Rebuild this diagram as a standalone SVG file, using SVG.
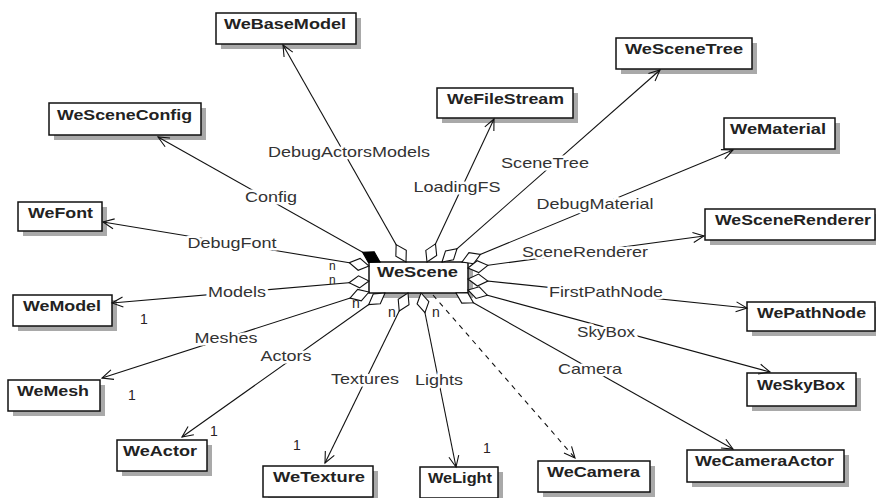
<svg xmlns="http://www.w3.org/2000/svg" width="876" height="498" viewBox="0 0 876 498">
<defs>
<style>
.box{fill:#fff;stroke:#111;stroke-width:1.5}
.sh{fill:#a9a9a9}
.nt{font-family:"Liberation Sans",Arial,sans-serif;font-weight:bold;font-size:15px;fill:#222}
.ln{fill:none;stroke:#111;stroke-width:1.1}
.ag{marker-start:url(#dia);marker-end:url(#arr)}
.lb{font-family:"Liberation Sans",Arial,sans-serif;font-size:15px;fill:#333;text-anchor:middle;stroke:#fff;stroke-width:5;paint-order:stroke;stroke-linejoin:round}
.m{font-family:"Liberation Sans",Arial,sans-serif;font-size:14px;fill:#2a2222}
.mn{font-family:"Liberation Sans",Arial,sans-serif;font-size:12px;fill:#2a2222}
</style>
<marker id="dia" markerUnits="userSpaceOnUse" markerWidth="1" markerHeight="1" refX="0" refY="0" orient="auto" overflow="visible">
<path d="M0,0 L10,-6 L20,0 L10,6 Z" fill="#fff" stroke="#111" stroke-width="1.1"/>
</marker>
<marker id="diab" markerUnits="userSpaceOnUse" markerWidth="1" markerHeight="1" refX="0" refY="0" orient="auto" overflow="visible">
<path d="M0,0 L10,-6 L20,0 L10,6 Z" fill="#000" stroke="#000" stroke-width="1.1"/>
</marker>
<marker id="arr" markerUnits="userSpaceOnUse" markerWidth="1" markerHeight="1" refX="0" refY="0" orient="auto" overflow="visible">
<path d="M-11,-5 L0,0 L-11,5" fill="none" stroke="#111" stroke-width="1.1"/>
</marker>
</defs>
<rect width="876" height="498" fill="#fff"/>

<g id="WeBaseModel"><rect class="sh" x="221" y="18" width="140" height="31"/><rect class="box" x="216" y="13" width="140" height="31"/><text class="nt" x="224" y="29" textLength="122" lengthAdjust="spacingAndGlyphs">WeBaseModel</text></g>
<g id="WeSceneConfig"><rect class="sh" x="54" y="108" width="152" height="32"/><rect class="box" x="49" y="103" width="152" height="32"/><text class="nt" x="57" y="120" textLength="135" lengthAdjust="spacingAndGlyphs">WeSceneConfig</text></g>
<g id="WeFont"><rect class="sh" x="23" y="207" width="84" height="29"/><rect class="box" x="18" y="202" width="84" height="29"/><text class="nt" x="28" y="218" textLength="65" lengthAdjust="spacingAndGlyphs">WeFont</text></g>
<g id="WeModel"><rect class="sh" x="18" y="300" width="99" height="31"/><rect class="box" x="13" y="295" width="99" height="31"/><text class="nt" x="23" y="311" textLength="78" lengthAdjust="spacingAndGlyphs">WeModel</text></g>
<g id="WeMesh"><rect class="sh" x="13" y="385" width="92" height="31"/><rect class="box" x="8" y="380" width="92" height="31"/><text class="nt" x="17" y="396" textLength="72" lengthAdjust="spacingAndGlyphs">WeMesh</text></g>
<g id="WeActor"><rect class="sh" x="122" y="445" width="90" height="31"/><rect class="box" x="117" y="440" width="90" height="31"/><text class="nt" x="123" y="456" textLength="74" lengthAdjust="spacingAndGlyphs">WeActor</text></g>
<g id="WeTexture"><rect class="sh" x="268" y="471" width="110" height="31"/><rect class="box" x="263" y="466" width="110" height="31"/><text class="nt" x="273" y="482" textLength="92" lengthAdjust="spacingAndGlyphs">WeTexture</text></g>
<g id="WeLight"><rect class="sh" x="425" y="472" width="78" height="31"/><rect class="box" x="420" y="467" width="78" height="31"/><text class="nt" x="428" y="483" textLength="64" lengthAdjust="spacingAndGlyphs">WeLight</text></g>
<g id="WeCamera"><rect class="sh" x="543" y="466" width="112" height="31"/><rect class="box" x="538" y="461" width="112" height="31"/><text class="nt" x="547" y="477" textLength="93" lengthAdjust="spacingAndGlyphs">WeCamera</text></g>
<g id="WeCameraActor"><rect class="sh" x="692" y="455" width="157" height="32"/><rect class="box" x="687" y="450" width="157" height="32"/><text class="nt" x="695" y="466" textLength="139" lengthAdjust="spacingAndGlyphs">WeCameraActor</text></g>
<g id="WeSkyBox"><rect class="sh" x="752" y="378" width="109" height="33"/><rect class="box" x="747" y="373" width="109" height="33"/><text class="nt" x="757" y="390" textLength="88" lengthAdjust="spacingAndGlyphs">WeSkyBox</text></g>
<g id="WePathNode"><rect class="sh" x="752" y="307" width="124" height="29"/><rect class="box" x="747" y="302" width="128" height="29"/><text class="nt" x="757" y="318" textLength="109" lengthAdjust="spacingAndGlyphs">WePathNode</text></g>
<g id="WeSceneRenderer"><rect class="sh" x="710" y="214" width="166" height="31"/><rect class="box" x="705" y="209" width="170" height="31"/><text class="nt" x="715" y="225" textLength="156" lengthAdjust="spacingAndGlyphs">WeSceneRenderer</text></g>
<g id="WeSceneTree"><rect class="sh" x="621" y="43" width="136" height="31"/><rect class="box" x="616" y="38" width="136" height="31"/><text class="nt" x="625" y="54" textLength="118" lengthAdjust="spacingAndGlyphs">WeSceneTree</text></g>
<g id="WeMaterial"><rect class="sh" x="729" y="123" width="111" height="31"/><rect class="box" x="724" y="118" width="111" height="31"/><text class="nt" x="730" y="134" textLength="96" lengthAdjust="spacingAndGlyphs">WeMaterial</text></g>
<g id="WeFileStream"><rect class="sh" x="442" y="93" width="136" height="30"/><rect class="box" x="437" y="88" width="136" height="30"/><text class="nt" x="447" y="104" textLength="117" lengthAdjust="spacingAndGlyphs">WeFileStream</text></g>
<g id="WeScene"><rect class="sh" x="374" y="267" width="99" height="31"/><rect class="box" x="369" y="262" width="99" height="31"/><text class="nt" x="377" y="277" textLength="81" lengthAdjust="spacingAndGlyphs">WeScene</text></g>

<g id="connectors">
<path class="ln" d="M380,262 L158,137" marker-start="url(#diab)" marker-end="url(#arr)"/>
<path class="ln ag" d="M406,262 L283,45"/>
<path class="ln ag" d="M427,262 L494,119"/>
<path class="ln ag" d="M442,262 L660,70"/>
<path class="ln ag" d="M462,262 L733,150"/>
<path class="ln ag" d="M468,268 L704,236"/>
<path class="ln ag" d="M468,279 L747,308"/>
<path class="ln ag" d="M468,290 L770,372"/>
<path class="ln ag" d="M456,293 L733,449"/>
<path class="ln" d="M433,295 L575,458" stroke-dasharray="5,5" marker-end="url(#arr)"/>
<path class="ln ag" d="M421,293 L456,467"/>
<path class="ln ag" d="M408,293 L325,463"/>
<path class="ln ag" d="M385,293 L182,437"/>
<path class="ln ag" d="M369,292 L102,378"/>
<path class="ln ag" d="M369,281 L112,303"/>
<path class="ln ag" d="M369,266 L103,222"/>

<text class="lb" x="349" y="157" textLength="162" lengthAdjust="spacingAndGlyphs">DebugActorsModels</text>
<text class="lb" x="271" y="202" textLength="52" lengthAdjust="spacingAndGlyphs">Config</text>
<text class="lb" x="232" y="248" textLength="89" lengthAdjust="spacingAndGlyphs">DebugFont</text>
<text class="lb" x="237" y="297" textLength="58" lengthAdjust="spacingAndGlyphs">Models</text>
<text class="lb" x="226" y="343" textLength="63" lengthAdjust="spacingAndGlyphs">Meshes</text>
<text class="lb" x="286" y="361" textLength="51" lengthAdjust="spacingAndGlyphs">Actors</text>
<text class="lb" x="365" y="384" textLength="68" lengthAdjust="spacingAndGlyphs">Textures</text>
<text class="lb" x="439" y="385" textLength="48" lengthAdjust="spacingAndGlyphs">Lights</text>
<text class="lb" x="590" y="374" textLength="64" lengthAdjust="spacingAndGlyphs">Camera</text>
<text class="lb" x="606" y="337" textLength="58" lengthAdjust="spacingAndGlyphs">SkyBox</text>
<text class="lb" x="606" y="297" textLength="114" lengthAdjust="spacingAndGlyphs">FirstPathNode</text>
<text class="lb" x="585" y="257" textLength="126" lengthAdjust="spacingAndGlyphs">SceneRenderer</text>
<text class="lb" x="595" y="209" textLength="117" lengthAdjust="spacingAndGlyphs">DebugMaterial</text>
<text class="lb" x="545" y="168" textLength="88" lengthAdjust="spacingAndGlyphs">SceneTree</text>
<text class="lb" x="457" y="192" textLength="87" lengthAdjust="spacingAndGlyphs">LoadingFS</text>

<text class="mn" x="329" y="270">n</text>
<text class="mn" x="329" y="284">n</text>
<text class="m" x="352" y="308">n</text>
<text class="m" x="388" y="317">n</text>
<text class="m" x="432" y="317">n</text>
<text class="m" x="140" y="324">1</text>
<text class="m" x="128" y="400">1</text>
<text class="m" x="210" y="436">1</text>
<text class="m" x="293" y="450">1</text>
<text class="m" x="483" y="453">1</text>
</g>
</svg>
